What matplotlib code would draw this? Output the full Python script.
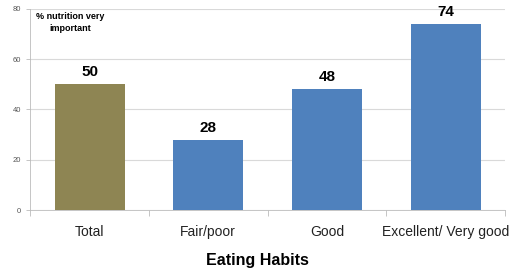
import numpy as np
import matplotlib.pyplot as plt

plt.rcParams['font.family'] = ['Liberation Sans', 'DejaVu Sans']

categorias = ['Total', 'Fair/poor', 'Good', 'Excellent/ Very good']
valores = [50, 28, 48, 74]
cores = ['#8E8553', '#4F81BD', '#4F81BD', '#4F81BD']

fig = plt.figure(figsize=(5.12, 2.7), dpi=100)
ax = fig.add_axes([0.059, 0.222, 0.927, 0.745])

x = np.arange(len(categorias))
barras = ax.bar(x, valores, width=0.59, color=cores, zorder=2)

for b, v in zip(barras, valores):
    ax.text(b.get_x() + b.get_width() / 2, v + 2, str(v), ha='center', va='bottom',
            fontsize=11, fontweight='bold')

ax.set_ylim(0, 80)
ax.set_xlim(-0.5, len(categorias) - 0.5)
ax.set_yticks([0, 20, 40, 60, 80])
ax.yaxis.grid(True, color='#d9d9d9', linewidth=0.8, zorder=0)
ax.tick_params(axis='y', labelsize=5.5, colors='#bbbbbb', labelcolor='#555555', length=3, width=0.6)

ax.set_xticks(x)
ax.set_xticklabels(categorias, fontsize=10, color='#222222')
ax.tick_params(axis='x', length=0, pad=11)
ax.set_xticks(np.arange(-0.5, len(categorias)), minor=True)
ax.tick_params(axis='x', which='minor', length=4, color='#bbbbbb', width=0.6)

for s in ['top', 'right']:
    ax.spines[s].set_visible(False)
for s in ['left', 'bottom']:
    ax.spines[s].set_color('#bbbbbb')
    ax.spines[s].set_linewidth(0.6)

# titulo do eixo x centrado na figura
fig.text(0.502, 0.037, 'Eating Habits', ha='center', va='center',
         fontsize=11.5, fontweight='bold')
ax.text(-0.16, 74.5, '% nutrition very\nimportant', ha='center', va='center',
        fontsize=6.5, fontweight='bold', linespacing=1.4)

plt.savefig('out.png', dpi=100)
